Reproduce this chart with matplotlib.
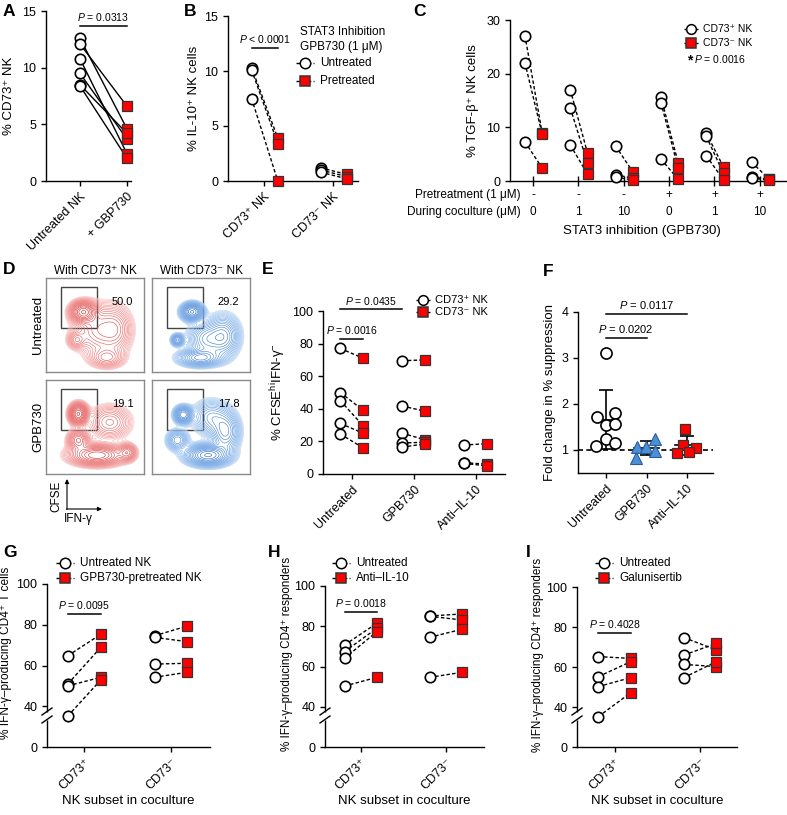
import numpy as np
import matplotlib
matplotlib.use('Agg')
import matplotlib.pyplot as plt
from matplotlib.patches import Rectangle
from matplotlib.colors import LinearSegmentedColormap

plt.rcParams['font.family'] = ['Liberation Sans', 'DejaVu Sans']
plt.rcParams['mathtext.fontset'] = 'custom'
plt.rcParams['mathtext.rm'] = 'Liberation Sans'
plt.rcParams['mathtext.it'] = 'Liberation Sans:italic'
plt.rcParams['mathtext.bf'] = 'Liberation Sans:bold'
plt.rcParams['axes.linewidth'] = 1.0
plt.rcParams['xtick.major.width'] = 1.0
plt.rcParams['ytick.major.width'] = 1.0
plt.rcParams['xtick.major.size'] = 3.5
plt.rcParams['ytick.major.size'] = 3.5
plt.rcParams['xtick.labelsize'] = 9
plt.rcParams['ytick.labelsize'] = 9
plt.rcParams['axes.labelsize'] = 9.5

# ---------------- data ----------------
a_categories = ['Untreated NK', '+ GBP730']
a_untreated = [12.6, 12.1, 10.8, 9.5, 8.5, 8.4]
a_gbp730 = [4.6, 6.6, 2.4, 3.7, 4.2, 2.0]
a_pvalue = '0.0313'

b_categories = ['CD73⁺ NK', 'CD73⁻ NK']
b_untreated = [[10.3, 10.1, 7.5], [1.2, 1.0, 0.8]]
b_pretreated = [[3.9, 3.4, 0.0], [0.6, 0.4, 0.2]]
b_pvalue = '< 0.0001'

c_pretreatment = ['-', '-', '-', '+', '+', '+']
c_coculture = ['0', '1', '10', '0', '1', '10']
c_cd73pos = [[27.1, 22.0, 7.3], [17.0, 13.6, 6.7], [6.5, 1.2, 0.7],
             [15.6, 14.6, 4.1], [8.9, 8.3, 4.7], [3.5, 0.8, 0.5]]
c_cd73neg = [[8.9, 8.7, 2.4], [5.2, 3.3, 1.3], [1.7, 0.5, 0.2],
             [3.4, 2.4, 0.3], [2.6, 1.4, 0.2], [0.4, 0.3, 0.2]]
c_pvalue = '0.0016'

d_columns = ['With CD73⁺ NK', 'With CD73⁻ NK']
d_rows = ['Untreated', 'GPB730']
d_gate_pct = [['50.0', '29.2'], ['19.1', '17.8']]
# population blobs (x, y, sx, sy, weight) used to sketch the density contours
d_pops = [
    [[(0.38, 0.64, 0.07, 0.06, 1.0), (0.55, 0.45, 0.15, 0.15, 0.35), (0.31, 0.34, 0.05, 0.05, 0.25),
      (0.62, 0.15, 0.10, 0.06, 0.3), (0.72, 0.45, 0.09, 0.14, 0.2)],
     [(0.41, 0.64, 0.06, 0.05, 1.0), (0.26, 0.34, 0.035, 0.035, 0.5), (0.49, 0.15, 0.12, 0.05, 0.6),
      (0.73, 0.38, 0.09, 0.12, 0.5), (0.55, 0.35, 0.10, 0.10, 0.4)]],
    [[(0.33, 0.64, 0.05, 0.06, 1.0), (0.52, 0.20, 0.15, 0.06, 0.8), (0.33, 0.36, 0.06, 0.06, 0.5),
      (0.83, 0.23, 0.05, 0.05, 0.4), (0.65, 0.55, 0.12, 0.10, 0.3)],
     [(0.32, 0.63, 0.05, 0.05, 0.8), (0.57, 0.20, 0.12, 0.06, 1.0), (0.26, 0.36, 0.06, 0.06, 0.4),
      (0.75, 0.45, 0.08, 0.12, 0.5), (0.60, 0.60, 0.10, 0.10, 0.35)]],
]

e_categories = ['Untreated', 'GPB730', 'Anti–IL-10']
e_cd73pos = [[77, 50, 45, 31, 24.5], [69.5, 41.7, 25, 19, 16.5], [17.8, 7, 6.5]]
e_cd73neg = [[71, 39, 29.5, 25, 16], [70, 38.5, 21, 19.5, 18.5], [18.6, 6, 5]]
e_pvalues = ['0.0016', '0.0435']

f_categories = ['Untreated', 'GPB730', 'Anti–IL-10']
f_untreated = [3.1, 1.72, 1.81, 1.54, 1.57, 1.25, 1.09, 1.16]
f_gpb730 = [1.07, 1.07, 1.25, 0.98, 0.83]
f_anti_il10 = [1.46, 1.11, 1.04, 0.94, 0.96]
f_jitter = [[0, -0.22, 0.22, 0, 0.22, 0, -0.25, 0.22],
            [-0.23, -0.02, 0.22, 0.22, -0.25],
            [-0.05, -0.1, 0.21, -0.25, 0.06]]
f_pvalues = ['0.0202', '0.0117']

ghi_categories = ['CD73⁺', 'CD73⁻']
g_untreated = [[64.8, 50.9, 50.0, 35.2], [74.6, 73.8, 60.7, 54.2]]
g_pretreated = [[75.3, 68.9, 54.2, 52.9], [79.4, 71.7, 61.1, 56.7]]
g_pvalue = '0.0095'
h_untreated = [[70.7, 67.4, 64.1, 50.3], [85.1, 85.0, 74.5, 54.6]]
h_anti_il10 = [[81.5, 79.0, 77.3, 54.6], [86.1, 83.1, 78.5, 57.1]]
h_pvalue = '0.0018'
i_untreated = [[65.2, 55.2, 50.2, 35.2], [74.7, 66.0, 61.3, 54.7]]
i_galunisertib = [[64.3, 62.7, 54.7, 47.2], [68.5, 71.8, 60.2, 62.7]]
i_pvalue = '0.4028'

# ---------------- figure ----------------
W, H = 787, 815
fig = plt.figure(figsize=(W / 100, H / 100), dpi=100)


def add_ax(x0, y0, x1, y1):
    ax = fig.add_axes([x0 / W, 1 - y1 / H, (x1 - x0) / W, (y1 - y0) / H])
    ax.spines['top'].set_visible(False)
    ax.spines['right'].set_visible(False)
    return ax


DASH = (0, (2.5, 1.6))
RED = '#FF0000'


def pairs(ax, x0, x1, ys0, ys1, ls=DASH, ms=7.5):
    for a, b in zip(ys0, ys1):
        ax.plot([x0, x1], [a, b], ls=ls, color='k', lw=1, zorder=2, clip_on=False)
    ax.plot([x0] * len(ys0), ys0, 'o', mfc='white', mec='k', mew=1.2, ms=ms, zorder=4, clip_on=False)
    ax.plot([x1] * len(ys1), ys1, 's', mfc=RED, mec='#333333', mew=0.9, ms=ms, zorder=3, clip_on=False)


def pbar(ax, x0, x1, y, text, fs=7.5):
    ax.plot([x0, x1], [y, y], color='k', lw=1.1, clip_on=False)
    ax.annotate(r'$P$ ' + text, xy=((x0 + x1) / 2, y), xytext=(0, 2), textcoords='offset points',
                ha='center', va='bottom', fontsize=fs, annotation_clip=False)


def rot_labels(ax, labels, fs=9):
    ax.set_xticklabels(labels, rotation=45, ha='right', rotation_mode='anchor', fontsize=fs)


# ---- A ----
axA = add_ax(46, 11, 131, 181)
axA.set_xlim(-0.72, 1.085)
axA.set_ylim(0, 15)
axA.set_yticks([0, 5, 10, 15])
axA.set_xticks([0, 1])
rot_labels(axA, a_categories)
pairs(axA, 0, 1, a_untreated, a_gbp730, ls='-')
pbar(axA, 0, 1, 13.7, '= ' + a_pvalue)
axA.set_ylabel('% CD73⁺ NK', labelpad=5)

# ---- B ----
axB = add_ax(228, 16, 358, 181)
axB.set_xlim(-0.522, 1.362)
axB.set_ylim(0, 15)
axB.set_yticks([0, 5, 10, 15])
axB.set_xticks([0, 1])
rot_labels(axB, b_categories)
for i in range(2):
    pairs(axB, i - 0.18, i + 0.2, b_untreated[i], b_pretreated[i])
pbar(axB, -0.18, 0.2, 12.1, b_pvalue)
axB.set_ylabel('% IL-10⁺ NK cells', labelpad=3)

# ---- C ----
axC = add_ax(510, 20, 787, 181)
axC.set_xlim(-0.51, 5.6)
axC.set_ylim(0, 30)
axC.set_yticks([0, 10, 20, 30])
axC.set_xticks(range(6))
axC.set_xticklabels([])
axC.tick_params(axis='x', direction='inout', length=7)
for i in range(6):
    pairs(axC, i - 0.18, i + 0.2, c_cd73pos[i], c_cd73neg[i])
    axC.text(i, -0.087, c_pretreatment[i], transform=axC.get_xaxis_transform(), ha='center', va='center', fontsize=8.5)
    axC.text(i, -0.193, c_coculture[i], transform=axC.get_xaxis_transform(), ha='center', va='center', fontsize=8.5)
axC.set_ylabel('% TGF-β⁺ NK cells', labelpad=5)

# ---- E ----
axE = add_ax(323, 311, 505, 474)
axE.set_xlim(-0.47, 2.47)
axE.set_ylim(0, 100)
axE.set_yticks([0, 20, 40, 60, 80, 100])
axE.set_xticks([0, 1, 2])
rot_labels(axE, e_categories)
for i in range(3):
    pairs(axE, i - 0.19, i + 0.18, e_cd73pos[i], e_cd73neg[i])
pbar(axE, -0.19, 0.18, 83, '= ' + e_pvalues[0])
pbar(axE, -0.19, 0.81, 101, '= ' + e_pvalues[1])
axE.set_ylabel(r'% CFSE$^{\rm hi}$IFN-γ$^{-}$', labelpad=3)

# ---- F ----
axF = add_ax(578, 312, 713, 473)
axF.set_xlim(-0.69, 2.64)
axF.set_ylim(0.5, 4)
axF.set_yticks([1, 2, 3, 4])
axF.set_xticks([0, 1, 2])
rot_labels(axF, f_categories)
axF.axhline(1, ls=(0, (3, 2)), color='k', lw=1.2, zorder=1)
f_groups = [f_untreated, f_gpb730, f_anti_il10]
f_styles = [dict(marker='o', mfc='white', mec='k', mew=1.2, ms=8),
            dict(marker='^', mfc='#4A90D9', mec='#2B5C99', mew=0.8, ms=8),
            dict(marker='s', mfc=RED, mec='#333333', mew=0.9, ms=7.5)]
for i, (vals, st) in enumerate(zip(f_groups, f_styles)):
    xs = [i + j for j in f_jitter[i]]
    m, s = np.mean(vals), np.std(vals, ddof=1)
    axF.errorbar([i], [m], yerr=[s], fmt='none', ecolor='k', elinewidth=1.2, capsize=5, capthick=1.2, zorder=2)
    axF.plot([i - 0.3, i + 0.3], [m, m], color='k', lw=1.2, zorder=2)
    axF.plot(xs, vals, ls='none', zorder=3, **st)
pbar(axF, 0, 1, 3.43, '= ' + f_pvalues[0], fs=8)
pbar(axF, 0, 2, 3.96, '= ' + f_pvalues[1], fs=8)
axF.set_ylabel('Fold change in % suppression', labelpad=4)


# ---- G, H, I (broken axis) ----
def fwd(y):
    y = np.asarray(y, dtype=float)
    return np.where(y >= 30, y, 20 + y / 3.0)


def inv(z):
    z = np.asarray(z, dtype=float)
    return np.where(z >= 30, z, (z - 20) * 3.0)


def broken_panel(box, xl, ys0, ys1, ylabel, lab_fs, lab_xy):
    ax = add_ax(*box)
    ax.set_yscale('function', functions=(fwd, inv))
    ax.set_ylim(0, 100)
    ax.set_yticks([0, 40, 60, 80, 100])
    ax.yaxis.set_minor_locator(matplotlib.ticker.NullLocator())
    ax.set_xlim(*xl)
    ax.set_xticks([0, 1])
    rot_labels(ax, ghi_categories)
    for i in range(2):
        pairs(ax, i - 0.19, i + 0.19, ys0[i], ys1[i])
    ax.set_ylabel(ylabel, fontsize=lab_fs)
    ax.yaxis.set_label_coords(*lab_xy)
    ax.set_xlabel('NK subset in coculture', fontsize=9.5, labelpad=2)
    return ax


axG = broken_panel((47, 584, 210, 747), (-0.43, 1.45), g_untreated, g_pretreated,
                   '% IFN-γ–producing CD4⁺ T cells', 8.6, (-0.215, 0.58))
pbar(axG, -0.19, 0.19, 85.3, '= ' + g_pvalue)
axH = broken_panel((325, 586, 484, 747), (-0.42, 1.45), h_untreated, h_anti_il10,
                   '% IFN-γ–producing CD4⁺ responders', 8.4, (-0.2, 0.58))
pbar(axH, -0.19, 0.19, 87.2, '= ' + h_pvalue)
axI = broken_panel((577, 587, 737, 747), (-0.44, 1.43), i_untreated, i_galunisertib,
                   '% IFN-γ–producing CD4⁺ responders', 8.4, (-0.205, 0.575))
pbar(axI, -0.19, 0.19, 77.2, '= ' + i_pvalue)

# ---- D (contour plots) ----
cm_red = LinearSegmentedColormap.from_list('r', ['#F9CACA', '#EC7272', '#D42A2A'])
cm_blue = LinearSegmentedColormap.from_list('b', ['#C2DAF5', '#70A6E6', '#2A6FCC'])
d_boxes = [[(46, 278, 144, 372), (152, 278, 250, 372)], [(46, 380, 144, 474), (152, 380, 250, 474)]]
gx = np.linspace(0, 1, 220)
GX, GY = np.meshgrid(gx, gx)
for r in range(2):
    for c in range(2):
        x0, y0, x1, y1 = d_boxes[r][c]
        ax = fig.add_axes([x0 / W, 1 - y1 / H, (x1 - x0) / W, (y1 - y0) / H])
        Z = np.zeros_like(GX)
        for (bx, by, sx, sy, w) in d_pops[r][c]:
            Z += w * np.exp(-((GX - bx) ** 2 / (2 * sx ** 2) + (GY - by) ** 2 / (2 * sy ** 2)))
        Z /= Z.max()
        lv = np.geomspace(0.035, 0.96, 20)
        cmap = cm_red if c == 0 else cm_blue
        ax.contour(GX, GY, Z, levels=lv, colors=[cmap(t) for t in np.linspace(0, 1, len(lv))],
                   linewidths=0.45)
        ax.add_patch(Rectangle((0.153, 0.468), 0.367, 0.436, fill=False, ec='#444444', lw=1.0))
        ax.text(0.67, 0.745, d_gate_pct[r][c], ha='left', va='center', fontsize=8, transform=ax.transAxes)
        ax.set_xlim(0, 1)
        ax.set_ylim(0, 1)
        ax.set_xticks([])
        ax.set_yticks([])
        for s in ax.spines.values():
            s.set_color('#8a8a8a')
            s.set_linewidth(1.0)

# ---- overlay for legends / labels (pixel coords) ----
ov = fig.add_axes([0, 0, 1, 1], zorder=10)
ov.set_xlim(0, W)
ov.set_ylim(H, 0)
ov.axis('off')
ov.patch.set_alpha(0)


def leg(xc, yc, marker, fc, mec, label, tx, fs=8, ms=7.5, half=9):
    ov.plot([xc - half, xc, xc + half], [yc] * 3, ls=DASH, color='k', lw=1, marker=marker,
            markevery=[1], mfc=fc, mec=mec, ms=ms, mew=1.1)
    ov.text(tx, yc, label, va='center', ha='left', fontsize=fs)


# panel letters
for lab, x, y in [('A', 3, 4), ('B', 184, 4), ('C', 413, 4), ('D', 3, 262), ('E', 262, 262),
                  ('F', 543, 264), ('G', 3, 545), ('H', 268, 545), ('I', 526, 545)]:
    ov.text(x, y, lab, fontsize=12.5, fontweight='bold', va='top', ha='left')

# B legend
ov.text(300, 32, 'STAT3 Inhibition', fontsize=8.5, va='center')
ov.text(300, 47, 'GPB730 (1 μM)', fontsize=8.5, va='center')
leg(305, 63, 'o', 'white', 'k', 'Untreated', 320, fs=8.5)
leg(305, 81, 's', RED, '#333333', 'Pretreated', 320, fs=8.5)

# C legend and extra labels
leg(691, 29, 'o', 'white', 'k', 'CD73⁺ NK', 703, fs=7.5, ms=7, half=7)
leg(691, 43, 's', RED, '#333333', 'CD73⁻ NK', 703, fs=7.5, ms=7, half=7)
ov.text(687, 60, '*', fontsize=10, fontweight='bold', va='center', ha='left')
ov.text(694, 59, r'$P$ = ' + c_pvalue, fontsize=7.5, va='center', ha='left')
ov.text(521, 195, 'Pretreatment (1 μM)', fontsize=8.5, ha='right', va='center')
ov.text(521, 212, 'During coculture (μM)', fontsize=8.5, ha='right', va='center')
ov.text(642, 231, 'STAT3 inhibition (GPB730)', fontsize=9.5, ha='center', va='center')

# D labels
ov.text(95, 271, d_columns[0], fontsize=8.5, ha='center', va='center')
ov.text(201, 271, d_columns[1], fontsize=8.5, ha='center', va='center')
ov.text(38, 325, d_rows[0], fontsize=9.5, rotation=90, ha='center', va='center')
ov.text(38, 427, d_rows[1], fontsize=9.5, rotation=90, ha='center', va='center')
ov.annotate('', xy=(67, 479), xytext=(67, 509.5),
            arrowprops=dict(arrowstyle='-|>', lw=0.8, color='k', mutation_scale=6, shrinkA=0, shrinkB=0))
ov.annotate('', xy=(102, 509), xytext=(66.5, 509),
            arrowprops=dict(arrowstyle='-|>', lw=0.8, color='k', mutation_scale=6, shrinkA=0, shrinkB=0))
ov.text(56, 496, 'CFSE', fontsize=8.5, rotation=90, ha='center', va='center')
ov.text(78, 519, 'IFN-γ', fontsize=8.5, ha='center', va='center')

# E legend
leg(423, 300, 'o', 'white', 'k', 'CD73⁺ NK', 435, fs=8, ms=7, half=7)
leg(423, 312, 's', RED, '#333333', 'CD73⁻ NK', 435, fs=8, ms=7, half=7)

# G, H, I legends
leg(65, 563, 'o', 'white', 'k', 'Untreated NK', 80, fs=8.5)
leg(65, 578, 's', RED, '#333333', 'GPB730-pretreated NK', 80, fs=8.5)
leg(341, 563, 'o', 'white', 'k', 'Untreated', 356, fs=8.5)
leg(341, 578, 's', RED, '#333333', 'Anti–IL-10', 356, fs=8.5)
leg(604, 563, 'o', 'white', 'k', 'Untreated', 619, fs=8.5)
leg(604, 578, 's', RED, '#333333', 'Galunisertib', 619, fs=8.5)

# axis break marks
for xs in (47, 325, 577):
    ov.plot([xs, xs], [711.5, 719.5], color='white', lw=2.5, solid_capstyle='butt')
    ov.plot([xs - 5, xs + 5], [715, 708], color='k', lw=1)
    ov.plot([xs - 5, xs + 5], [723, 716], color='k', lw=1)

fig.savefig('out.png', dpi=100)
